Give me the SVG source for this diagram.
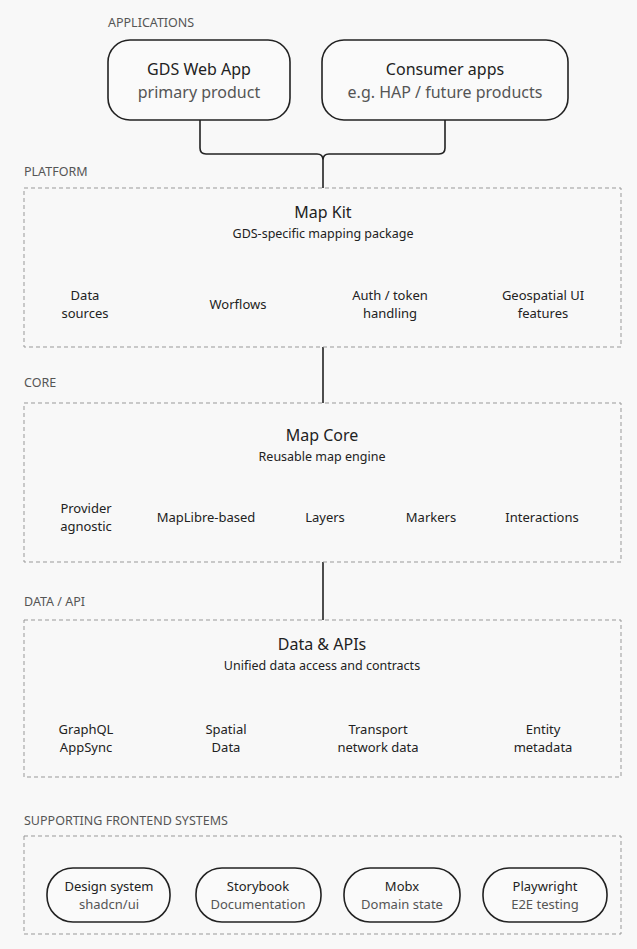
<svg xmlns="http://www.w3.org/2000/svg" width="637" height="949" viewBox="0 0 637 949">
<style>
text{font-family:"Noto Sans","Open Sans",sans-serif;text-anchor:middle;fill:#222}
.lbl{font-size:12.5px;fill:#555;text-anchor:start}
.t{font-size:16px}
.st{font-size:12.5px}
.it{font-size:13px}
.sub{fill:#555}
.app{fill:#fafafa;stroke:#222;stroke-width:1.6}
.grp{fill:none;stroke:#999;stroke-width:1;stroke-dasharray:4 3}
.con{fill:none;stroke:#222;stroke-width:1.6}
</style>
<rect width="637" height="949" fill="#f8f8f8"/>
<text class="lbl" x="108" y="27">APPLICATIONS</text>
<text class="lbl" x="24" y="176">PLATFORM</text>
<text class="lbl" x="24" y="387">CORE</text>
<text class="lbl" x="24" y="606">DATA / API</text>
<text class="lbl" x="24" y="825">SUPPORTING FRONTEND SYSTEMS</text>
<g id="connectors">
<path class="con" d="M200 120 V148 Q200 154 206 154 H317 Q323 154 323 160 V188 M323 160 Q323 154 329 154 H439 Q445 154 445 148 V120"/>
<path class="con" d="M323 347 V403"/>
<path class="con" d="M323 562 V620"/>
</g>
<g id="gds-web-app"><rect class="app" x="108" y="40" width="182" height="80" rx="22"/>
<text class="t" x="199" y="75">GDS Web App</text><text class="t sub" x="199" y="98">primary product</text></g>
<g id="consumer-apps"><rect class="app" x="322" y="40" width="246" height="80" rx="22"/>
<text class="t" x="445" y="75">Consumer apps</text><text class="t sub" x="445" y="98">e.g. HAP / future products</text></g>
<g id="map-kit"><rect class="grp" x="24" y="188" width="597" height="159"/>
<text class="t" x="323" y="218">Map Kit</text><text class="st" x="323" y="238">GDS-specific mapping package</text>
<text class="it" x="85" y="300">Data</text><text class="it" x="85" y="318">sources</text>
<text class="it" x="238" y="309">Worflows</text>
<text class="it" x="390" y="300">Auth / token</text><text class="it" x="390" y="318">handling</text>
<text class="it" x="543" y="300">Geospatial UI</text><text class="it" x="543" y="318">features</text></g>
<g id="map-core"><rect class="grp" x="24" y="403" width="597" height="159"/>
<text class="t" x="322" y="441">Map Core</text><text class="st" x="322" y="461">Reusable map engine</text>
<text class="it" x="86" y="513">Provider</text><text class="it" x="86" y="531">agnostic</text>
<text class="it" x="206" y="522">MapLibre-based</text>
<text class="it" x="325" y="522">Layers</text>
<text class="it" x="431" y="522">Markers</text>
<text class="it" x="542" y="522">Interactions</text></g>
<g id="data-apis"><rect class="grp" x="24" y="620" width="597" height="157"/>
<text class="t" x="322" y="650">Data &amp; APIs</text><text class="st" x="322" y="670">Unified data access and contracts</text>
<text class="it" x="86" y="734">GraphQL</text><text class="it" x="86" y="752">AppSync</text>
<text class="it" x="226" y="734">Spatial</text><text class="it" x="226" y="752">Data</text>
<text class="it" x="378" y="734">Transport</text><text class="it" x="378" y="752">network data</text>
<text class="it" x="543" y="734">Entity</text><text class="it" x="543" y="752">metadata</text></g>
<g id="supporting"><rect class="grp" x="24" y="836" width="597" height="98"/></g>
<g id="design-system"><rect class="app" x="47" y="868" width="123" height="54" rx="26"/>
<text class="it" x="109" y="891">Design system</text><text class="it sub" x="109" y="909">shadcn/ui</text></g>
<g id="storybook"><rect class="app" x="196" y="868" width="125" height="54" rx="26"/>
<text class="it" x="258" y="891">Storybook</text><text class="it sub" x="258" y="909">Documentation</text></g>
<g id="mobx"><rect class="app" x="344" y="868" width="116" height="54" rx="26"/>
<text class="it" x="402" y="891">Mobx</text><text class="it sub" x="402" y="909">Domain state</text></g>
<g id="playwright"><rect class="app" x="483" y="868" width="124" height="54" rx="26"/>
<text class="it" x="545" y="891">Playwright</text><text class="it sub" x="545" y="909">E2E testing</text></g>
</svg>
